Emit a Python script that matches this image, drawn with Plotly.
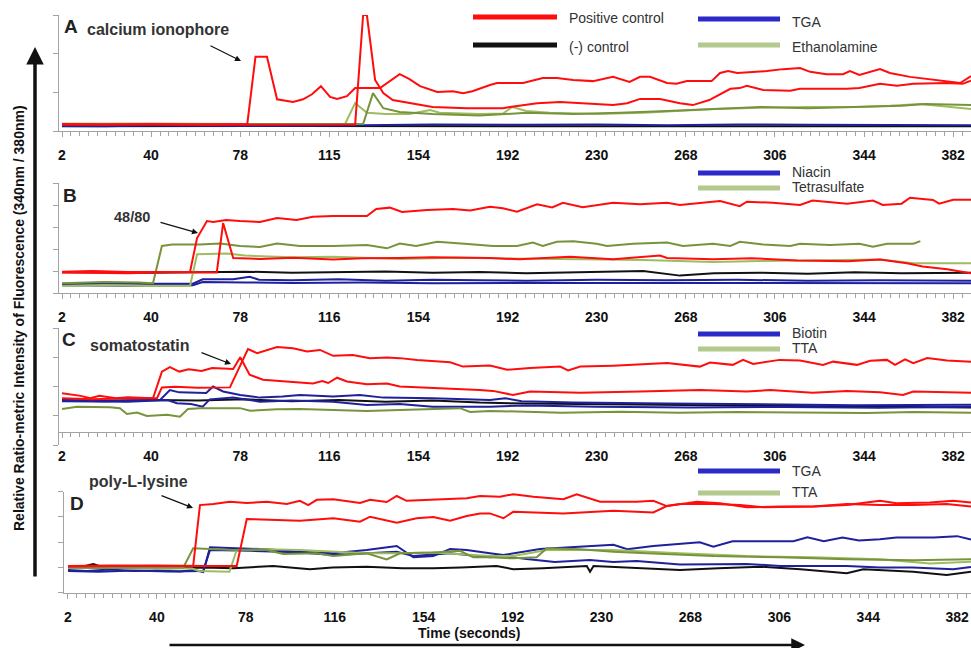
import plotly.graph_objects as go

W, H = 971, 648

# ---------------- tick labels ----------------
TICK_VALS = [2, 40, 78, 116, 154, 192, 230, 268, 306, 344, 382]
TICK_TEXT_A = ["2", "40", "78", "115", "154", "192", "230", "268", "306", "344", "382"]
TICK_TEXT = ["2", "40", "78", "116", "154", "192", "230", "268", "306", "344", "382"]

# ---------------- Panel A : calcium ionophore (time s, ratio units) ----------------
A_POS1 = [(2,0.18),(20,0.17),(40,0.18),(60,0.17),(81,0.18),(84.5,1.92),(89.4,1.92),(93.7,0.82),(100.5,0.75),
          (104.8,0.82),(108.6,0.95),(112.4,1.16),(116.3,0.88),(119.3,0.83),(123.5,0.90),(127,1.11),(137.6,1.11),
          (146,1.47),(150,1.35),(154.7,1.16),(162,1.01),(168.7,1.03),(173,0.98),(177,1.03),(184.5,1.19),(187.5,1.24),
          (198.6,1.24),(203,1.30),(207,1.37),(213,1.37),(220,1.32),(228.4,1.29),(237,1.40),(244,1.27),(248.5,1.40),
          (252.7,1.40),(260,1.24),(264,1.22),(268.5,1.29),(279,1.29),(282.6,1.50),(286,1.55),(290,1.50),(302.6,1.55),
          (309.5,1.60),(316.7,1.63),(321,1.53),(328,1.47),(335,1.47),(338,1.55),(342,1.45),(350.8,1.60),(355,1.50),
          (363.6,1.40),(373.4,1.32),(385,1.24),(389.6,1.42)]
A_POS2 = [(2,0.16),(30,0.17),(60,0.16),(90,0.17),(127,0.17),(130.4,3.0),(132,3.0),(135.5,1.32),(139,0.98),
          (143,0.80),(150.4,0.72),(160,0.62),(174.7,0.59),(184.5,0.59),(190,0.59),(193,0.62),(204.6,0.72),
          (214.4,0.75),(226,0.70),(237,0.67),(243,0.72),(248.5,0.83),(257,0.83),(265.5,0.72),(271,0.67),(278,0.80),
          (287,1.09),(291,1.11),(294,1.17),(301,1.06),(312.5,1.04),(316.7,1.09),(336.8,1.09),(342,1.11),(350.8,1.22),
          (358,1.17),(365,1.22),(379.4,1.24),(386,1.22),(389.6,1.30)]
A_ETH1 = [(2,0.18),(40,0.19),(80,0.18),(122.7,0.18),(127,0.72),(132,0.47),(140,0.44),(150,0.44),(159,0.54),
          (163,0.47),(180,0.44),(190,0.45),(194,0.62),(200,0.52),(210,0.47),(230,0.44),(250,0.47),(265,0.52),
          (280,0.57),(300,0.60),(320,0.62),(340,0.62),(355,0.65),(368,0.70),(380,0.62),(389.6,0.57)]
A_ETH2 = [(2,0.19),(60,0.19),(100,0.19),(130.4,0.18),(134.6,0.98),(139,0.59),(146,0.49),(160,0.44),(180,0.40),
          (200,0.47),(220,0.44),(240,0.47),(260,0.52),(280,0.57),(300,0.62),(320,0.59),(340,0.62),(360,0.65),
          (370,0.70),(389.6,0.67)]
A_TGA = [(2,0.13),(20,0.12),(40,0.14),(80,0.13),(120,0.14),(140,0.15),(160,0.17),(200,0.16),(230,0.17),
         (260,0.15),(290,0.17),(320,0.16),(350,0.15),(389.6,0.15)]
A_NEG = [(2,0.12),(100,0.13),(200,0.12),(300,0.12),(389.6,0.12)]

# ---------------- Panel B : 48/80 ----------------
B_POS1 = [(2,0.97),(15,1.0),(30,0.95),(45,0.97),(56.6,0.97),(59.6,2.5),(63.8,3.27),(66.5,3.23),(72,3.32),
          (77.9,3.27),(86.4,3.23),(93.7,3.41),(102,3.32),(109,3.47),(117.6,3.5),(132,3.5),(136,3.82),(141.8,3.88),
          (147,3.68),(157.6,3.77),(168.7,3.82),(176,3.75),(184.5,3.92),(190,3.85),(196,3.70),(204.6,4.03),(211,3.89),
          (215.6,4.10),(224,3.90),(237,4.10),(248.5,4.03),(260,4.10),(265.5,4.0),(282.6,4.18),(291,3.95),(294,4.15),
          (305,4.10),(316.7,4.0),(322,4.2),(336.8,4.06),(347.8,4.2),(352,4.0),(360,4.06),(363.6,4.33),(373.4,4.23),
          (376,4.06),(382,4.24),(389.6,4.24)]
B_POS2 = [(2,0.93),(30,0.9),(50,0.95),(68,0.93),(70.7,3.18),(75,1.59),(86.4,1.55),(100.5,1.60),(117.6,1.52),
          (130,1.58),(146,1.59),(160,1.63),(184.5,1.59),(197,1.53),(210,1.60),(218.6,1.65),(237,1.53),(257,1.70),
          (260,1.59),(279.6,1.53),(296,1.58),(315.4,1.48),(336.8,1.44),(350.8,1.52),(362.3,1.35),(369,1.20),
          (379.4,1.08),(389.6,0.90)]
B_TET1 = [(2,0.44),(20,0.50),(35,0.48),(40.8,0.44),(44.6,2.14),(49,2.2),(60.8,2.2),(69.4,2.25),(77.9,2.14),
          (86.4,2.09),(93.7,2.25),(103.5,2.14),(117.6,2.14),(132,2.18),(140.6,2.03),(146,2.25),(153,2.14),(162,2.33),
          (175,2.23),(185.8,2.14),(196,2.14),(202.8,2.29),(207,2.14),(213,2.33),(220,2.35),(230,2.24),(234.4,2.14),
          (245.5,2.24),(260,2.29),(266.8,2.14),(279.6,2.24),(287,2.14),(291,2.33),(301,2.2),(312.5,2.14),
          (316.7,2.24),(329.5,2.18),(342,2.24),(347.8,2.10),(353.8,2.24),(365,2.24),(368,2.36)]
B_TET2 = [(2,0.32),(20,0.35),(40,0.32),(56.6,0.32),(59.6,1.76),(72.4,1.8),(80,1.70),(100,1.62),(117.6,1.65),
          (146,1.55),(170,1.60),(184.5,1.59),(200,1.55),(224,1.53),(250,1.50),(279.6,1.41),(300,1.45),(322,1.47),
          (350.8,1.52),(365,1.35),(389.6,1.35)]
B_NEG = [(2,0.94),(20,0.96),(40,0.92),(60,0.94),(80,0.97),(100,0.92),(120,0.96),(140,0.98),(160,0.92),
         (180,0.95),(200,0.90),(220,0.94),(249.8,1.0),(265.5,0.79),(280,0.9),(300,0.92),(320,0.88),(340,0.94),
         (360,0.90),(389.6,0.92)]
B_NIA1 = [(2,0.42),(20,0.44),(40,0.42),(57.8,0.42),(62,0.62),(75,0.62),(82,0.74),(86,0.60),(100,0.58),
          (120,0.62),(140,0.56),(160,0.60),(180,0.58),(200,0.56),(230,0.60),(260,0.58),(290,0.60),(320,0.56),
          (350,0.58),(389.6,0.56)]
B_NIA2 = [(2,0.35),(30,0.33),(57.8,0.35),(62,0.50),(80,0.48),(100,0.45),(130,0.48),(160,0.44),(200,0.46),
          (240,0.45),(280,0.44),(320,0.46),(360,0.42),(389.6,0.44)]

# ---------------- Panel C : somatostatin ----------------
C_POS1 = [(2,1.77),(10,1.68),(14,1.60),(18,1.68),(25,1.60),(30,1.63),(40.8,1.60),(44.6,2.51),(48,2.66),
          (52,2.51),(56,2.59),(61.5,2.53),(66,2.63),(75,2.60),(78,3.0),(82,2.40),(87.7,2.23),(96,2.17),(103.5,2.12),
          (109,2.10),(113,2.19),(115.5,2.12),(119.3,2.30),(123.5,2.17),(132,2.08),(140.6,2.10),(146,2.0),(160,1.96),
          (180,1.88),(185.8,1.85),(194.3,1.71),(201.6,1.83),(222.9,1.79),(248.5,1.83),(274,1.88),(294,1.83),
          (304,1.88),(322,1.79),(336.8,1.85),(350.8,1.80),(360.6,1.71),(365,1.83),(389.6,1.79)]
C_POS2 = [(2,1.60),(15,1.56),(30,1.60),(42.5,1.60),(44.6,1.97),(50,1.99),(60,1.96),(73.6,1.97),(81.3,3.28),
          (85.2,3.14),(93.7,3.35),(100.5,3.31),(106.5,3.20),(112,3.25),(117.6,3.05),(126,3.08),(133.3,2.97),
          (140.6,2.99),(146,2.97),(153.4,2.91),(167.5,2.83),(173,2.68),(184.5,2.72),(191.8,2.57),(201.6,2.63),
          (214.4,2.68),(217.8,2.55),(223,2.68),(237,2.71),(260,2.80),(274,2.68),(278.3,2.82),(288,2.74),
          (292.4,2.91),(296.7,2.77),(308,2.91),(316.7,2.89),(326.5,2.74),(330.8,2.85),(341,2.74),(346.6,2.88),
          (353.8,2.91),(357.2,2.74),(361.5,2.93),(365,2.80),(370.9,2.97),(379.4,2.89),(389.6,2.85)]
C_BIO1 = [(2,1.54),(20,1.52),(43.8,1.54),(48,1.88),(52,1.80),(63.5,1.78),(66.4,2.0),(70.7,1.83),(78,1.71),
          (86.4,1.62),(96,1.66),(103.5,1.71),(117.6,1.66),(129,1.71),(139,1.62),(160,1.60),(184.5,1.54),
          (191,1.60),(198,1.50),(220,1.45),(260,1.42),(300,1.38),(340,1.36),(389.6,1.38)]
C_BIO2 = [(2,1.50),(30,1.48),(47,1.54),(51,1.43),(57,1.40),(62,1.31),(65,1.56),(75,1.62),(86.4,1.48),
          (100,1.52),(117.6,1.48),(132,1.37),(146,1.40),(160,1.31),(184.5,1.31),(200,1.35),(230,1.31),
          (270,1.28),(310,1.30),(350,1.27),(389.6,1.31)]
C_NEG = [(2,1.52),(20,1.50),(40,1.54),(60,1.52),(80,1.56),(100,1.50),(120,1.54),(140,1.48),(160,1.52),
         (180,1.45),(200,1.42),(230,1.40),(260,1.38),(290,1.35),(320,1.33),(350,1.30),(389.6,1.28)]
C_TTA = [(2,1.23),(8.4,1.31),(22.5,1.29),(26.7,1.26),(29.7,1.06),(34,1.11),(38.2,0.99),(46.8,1.03),(52.3,0.97),
         (55.7,1.23),(60.8,1.26),(77.9,1.26),(82.2,1.17),(93.7,1.22),(103.5,1.23),(117.6,1.20),(132,1.16),
         (146,1.20),(171.7,1.26),(176,1.13),(184.5,1.16),(200,1.14),(215,1.10),(240,1.14),(265,1.10),(290,1.13),
         (320,1.12),(345,1.09),(365,1.13),(389.6,1.10)]

# ---------------- Panel D : poly-L-lysine ----------------
D_POS1 = [(2,1.06),(20,1.08),(40,1.06),(55.5,1.06),(58.4,3.47),(64.1,3.51),(71.2,3.60),(78.4,3.55),(86.9,3.60),
          (95.5,3.51),(101.1,3.64),(104.7,3.47),(108.3,3.68),(115.4,3.70),(126.8,3.55),(131.1,3.68),(138.2,3.59),
          (142.5,3.83),(146.7,3.64),(158.1,3.68),(172.4,3.74),(178.1,3.83),(186.6,3.80),(192.3,3.90),(200.9,3.80),
          (213.7,3.70),(219.4,3.90),(229.4,3.60),(245,3.60),(252.1,3.64),(257.9,3.43),(266.4,3.54),(270.7,3.60),
          (280.6,3.54),(292,3.38),(306.3,3.41),(320.5,3.41),(334.8,3.51),(349,3.47),(363.2,3.47),(377.5,3.51),
          (387.9,3.41)]
D_POS2 = [(2,1.04),(20,1.06),(40,1.08),(60,1.06),(74.1,1.06),(78.4,2.92),(86.9,2.90),(101.1,2.85),(108.3,2.90),
          (115.4,2.95),(126.8,2.81),(131.1,3.01),(142.5,2.77),(151,2.95),(158.1,3.0),(165.3,2.85),(172.4,3.04),
          (178.1,3.14),(182.3,3.14),(188.1,2.95),(192.3,3.21),(213.7,3.14),(235.1,3.25),(252.1,3.18),(257.9,3.43),
          (263.5,3.51),(277.8,3.51),(289.2,3.47),(299.1,3.38),(320.5,3.41),(334.8,3.47),(349,3.64),(356.1,3.54),
          (370.4,3.57),(380.3,3.64),(387.9,3.57)]
D_TGA1 = [(2,0.90),(10,0.86),(20,0.92),(30,0.86),(40,0.88),(50,0.84),(56,0.90),(59.8,0.82),(62.7,1.80),
          (72.7,1.76),(86.9,1.72),(101.1,1.62),(115.4,1.56),(129.6,1.69),(142.5,1.85),(149.6,1.40),(158.1,1.45),
          (165.3,1.73),(172.4,1.69),(182.3,1.56),(188,1.49),(203.7,1.73),(225,1.85),(235.1,1.90),(241,1.72),
          (252.1,1.85),(272,2.0),(277.8,1.82),(286,2.04),(312,2.04),(318,2.19),(325,2.04),(333,2.19),(340,2.07),
          (349,2.12),(356,2.19),(372,2.19),(382,2.24),(387.9,2.11)]
D_TGA2 = [(2,0.86),(15,0.83),(30,0.88),(45,0.84),(59.8,0.86),(62.7,1.69),(80,1.66),(100,1.60),(115.4,1.49),
          (130,1.56),(142.5,1.62),(149.6,1.45),(165.3,1.56),(182.3,1.40),(188,1.45),(199,1.32),(210,1.22),
          (225,1.30),(235,1.22),(245,1.26),(263.5,1.12),(292,1.14),(306.3,1.06),(334.8,1.06),(349,1.0),(363,1.0),
          (380.3,0.93),(387.9,1.02)]
D_TTA1 = [(2,1.0),(15,0.98),(30,1.0),(45,0.98),(51.3,1.0),(55.5,1.76),(72.7,1.69),(86.9,1.69),(94,1.53),
          (108.3,1.56),(115.4,1.45),(129.6,1.56),(138.2,1.32),(143.9,1.56),(158.1,1.59),(169.5,1.66),(175.2,1.40),
          (182.3,1.40),(192.3,1.36),(202.3,1.40),(206.6,1.76),(220.8,1.72),(235.1,1.62),(249.3,1.56),(263.5,1.50),
          (277.8,1.45),(306.3,1.40),(334.8,1.32),(363.2,1.29),(387.9,1.32)]
D_TTA2 = [(2,0.98),(20,1.0),(40,0.97),(55,0.96),(58,0.86),(71,0.83),(74.1,1.69),(86.9,1.72),(101.1,1.69),
          (115.4,1.62),(129.6,1.56),(143.9,1.56),(158.1,1.59),(182.3,1.45),(192.3,1.45),(206.6,1.69),(235.1,1.69),
          (263.5,1.56),(292,1.45),(320.5,1.40),(349,1.32),(370.4,1.16),(387.9,1.23)]
D_NEG = [(2,1.0),(8,1.03),(12.8,1.14),(18,0.98),(30,1.0),(45,0.97),(60,1.0),(72.7,0.97),(89.7,1.06),
         (105.4,0.93),(115,1.0),(129.6,1.03),(145,0.97),(158.1,0.97),(170,1.0),(178.1,1.03),(185.2,1.06),
         (192.3,0.93),(205,0.97),(223.7,1.06),(225.1,0.83),(226.6,1.06),(245,0.97),(263.5,0.90),(280,0.97),
         (297.7,1.03),(315,0.93),(334.8,0.77),(341.9,0.93),(363.2,0.83),(377.5,0.70),(387.9,0.83)]

# ---------------- styling ----------------
RED = "#ff0d0d"
BLACK = "#111111"
BLUE = "#1f219c"
DGREEN = "#77933c"
LGREEN = "#9dbd5f"
AXIS = "#a3a3a3"
FONT = "Liberation Sans, Arial, sans-serif"


def pxx(x):
    return x / W


def pyy(y):
    return 1 - y / H


fig = go.Figure()

panels = [
    ("x", "y", [(A_NEG, BLACK), (A_TGA, BLUE), (A_ETH1, LGREEN), (A_ETH2, DGREEN), (A_POS1, RED), (A_POS2, RED)]),
    ("x2", "y2", [(B_NEG, BLACK), (B_NIA1, BLUE), (B_NIA2, BLUE), (B_TET2, LGREEN), (B_TET1, DGREEN),
                  (B_POS2, RED), (B_POS1, RED)]),
    ("x3", "y3", [(C_NEG, BLACK), (C_BIO1, BLUE), (C_BIO2, BLUE), (C_TTA, DGREEN), (C_POS1, RED), (C_POS2, RED)]),
    ("x4", "y4", [(D_NEG, BLACK), (D_TGA1, BLUE), (D_TGA2, BLUE), (D_TTA2, LGREEN), (D_TTA1, DGREEN),
                  (D_POS2, RED), (D_POS1, RED)]),
]
for xa, ya, series in panels:
    for data, col in series:
        fig.add_trace(go.Scatter(
            x=[p[0] for p in data], y=[p[1] for p in data], mode="lines",
            line=dict(color=col, width=2), xaxis=xa, yaxis=ya, showlegend=False, hoverinfo="skip"))


def xaxis(domain, rng, ticktext, anchor, position=None):
    d = dict(domain=domain, range=rng, anchor=anchor, tickmode="array", tickvals=TICK_VALS,
             ticktext=ticktext, ticks="outside", ticklen=5, tickcolor=AXIS, tickwidth=1,
             showline=True, linecolor=AXIS, linewidth=1, showgrid=False, zeroline=False,
             ticklabelstandoff=6,
             tickfont=dict(family=FONT, size=14, color="#111", weight="bold"),
             minor=dict(tick0=2, dtick=3.8, ticks="outside", ticklen=4, tickcolor=AXIS, showgrid=False))
    if position is not None:
        d["position"] = position
    return d


def yaxis(domain, rng, anchor):
    return dict(domain=domain, range=rng, anchor=anchor, tick0=0, dtick=1, ticks="outside", ticklen=5,
                tickcolor=AXIS, showline=True, linecolor=AXIS, linewidth=1, showgrid=False, zeroline=False,
                showticklabels=False)


XR_ABC = [0.72, 389.6]
XR_D = [0.3, 387.9]

layout = dict(
    width=W, height=H, margin=dict(l=0, r=0, t=0, b=0),
    paper_bgcolor="white", plot_bgcolor="white",
    xaxis=xaxis([pxx(59), 1.0], XR_ABC, TICK_TEXT_A, "y"),
    yaxis=yaxis([pyy(131), pyy(15)], [0, 3], "x"),
    xaxis2=xaxis([pxx(59), 1.0], XR_ABC, TICK_TEXT, "y2"),
    yaxis2=yaxis([pyy(293), pyy(183)], [0, 5], "x2"),
    xaxis3=xaxis([pxx(59), 1.0], XR_ABC, TICK_TEXT, "free", position=pyy(432)),
    yaxis3=yaxis([pyy(445), pyy(328)], [0, 4], "x3"),
    xaxis4=xaxis([pxx(64), 1.0], XR_D, TICK_TEXT, "y4"),
    yaxis4=yaxis([pyy(592.7), pyy(491.7)], [0, 4], "x4"),
)
fig.update_layout(**layout)

annotations = []


def text(t, x, y, size=14, bold=False, color="#222", xanchor="left", angle=0):
    annotations.append(dict(text=t, x=pxx(x), y=pyy(y), xref="paper", yref="paper", showarrow=False,
                            xanchor=xanchor, yanchor="middle", textangle=angle,
                            font=dict(family=FONT, size=size, color=color, weight="bold" if bold else "normal")))


def arrow(hx, hy, tx, ty, width=1.2, size=1.0, head=2):
    annotations.append(dict(text="", x=pxx(hx), y=pyy(hy), xref="paper", yref="paper", showarrow=True,
                            ax=tx - hx, ay=ty - hy, axref="pixel", ayref="pixel", arrowhead=head,
                            arrowsize=size, arrowwidth=width, arrowcolor="#111", standoff=0, startstandoff=0))


# panel letters and stimulus labels
text("A", 71, 27, size=19, bold=True, xanchor="center")
text("calcium ionophore", 85, 30, size=16, bold=True, color="#333")
arrow(241, 61, 209, 45)
text("B", 70, 195, size=19, bold=True, xanchor="center")
text("48/80", 112, 217, size=14.5, bold=True, color="#333")
arrow(198, 233, 159, 222)
text("C", 69, 339, size=19, bold=True, xanchor="center")
text("somatostatin", 88, 345, size=16, bold=True, color="#333")
arrow(231, 364, 200, 352)
text("D", 77, 503, size=19, bold=True, xanchor="center")
text("poly-L-lysine", 87, 481, size=16, bold=True, color="#333")
arrow(193, 508, 160, 495)

# legends
legend_items = [
    (473, 557, 17, RED, "Positive control", 18),
    (473, 557, 45, BLACK, "(-) control", 47),
    (698, 780, 19, "#2a2ac8", "TGA", 22),
    (698, 780, 45, "#b3c98d", "Ethanolamine", 47),
    (698, 780, 173, "#2a2ac8", "Niacin", 172),
    (698, 780, 188, "#b3c98d", "Tetrasulfate", 187),
    (698, 780, 334, "#2a2ac8", "Biotin", 333),
    (698, 780, 349, "#b3c98d", "TTA", 348),
    (698, 780, 471, "#2a2ac8", "TGA", 471),
    (698, 780, 493, "#b3c98d", "TTA", 492),
]
shapes = []
for x0, x1, ly, col, label, ty in legend_items:
    shapes.append(dict(type="line", xref="paper", yref="paper", x0=pxx(x0), x1=pxx(x1), y0=pyy(ly), y1=pyy(ly),
                       line=dict(color=col, width=5)))
    text(label, x1 + 10, ty, size=14, color="#333")

# axis titles and big arrows
text("Relative Ratio-metric Intensity of Fluorescence (340nm / 380nm)", 19, 318, size=14, bold=True,
     color="#111", xanchor="center", angle=-90)
arrow(35, 47, 35, 578, width=3.5, size=1.0, head=2)
text("Time (seconds)", 469, 633, size=14, bold=True, color="#111", xanchor="center")
arrow(805, 645, 168, 645, width=2.5, size=1.1, head=2)

fig.update_layout(annotations=annotations, shapes=shapes)
fig.write_html("out.html", config={"displayModeBar": False},
               post_script="document.body.style.margin='0';document.body.style.overflow='hidden';")
